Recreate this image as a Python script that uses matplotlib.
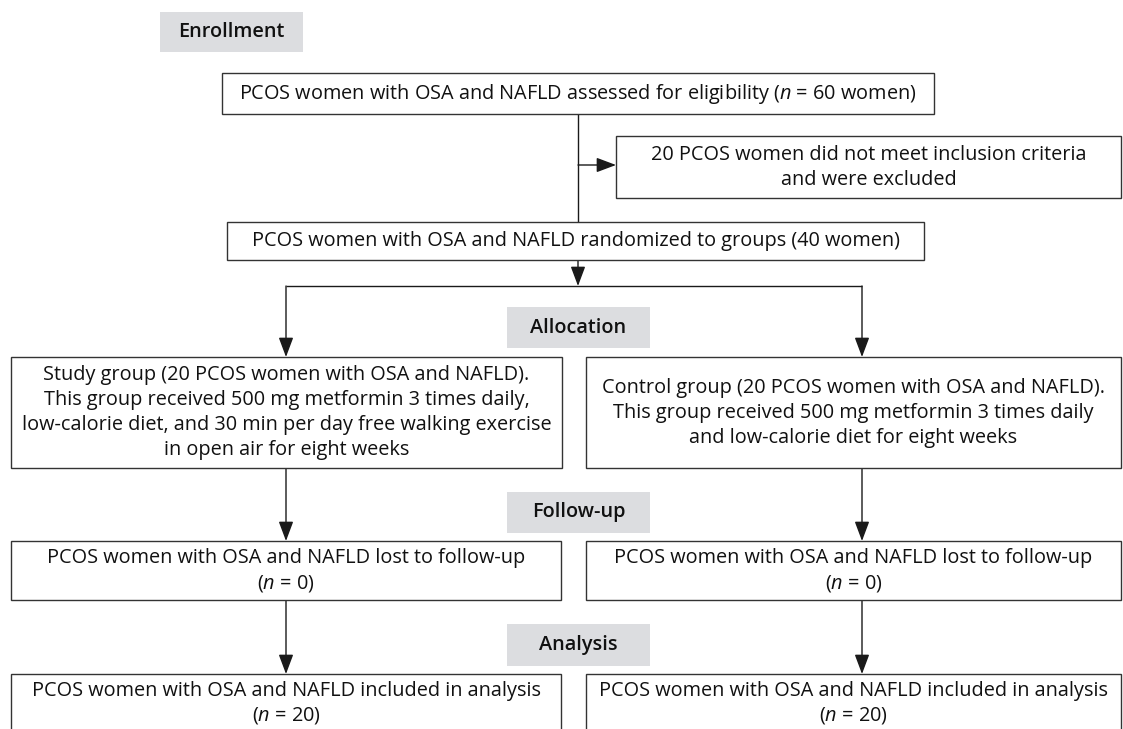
import matplotlib
matplotlib.use('Agg')
import matplotlib.pyplot as plt
from matplotlib.patches import Rectangle

plt.rcParams['font.family'] = ['Open Sans', 'DejaVu Sans']
plt.rcParams['mathtext.fontset'] = 'custom'
plt.rcParams['mathtext.rm'] = 'Open Sans'
plt.rcParams['mathtext.it'] = 'Open Sans:italic'

# ---------------- content ----------------
stage_labels = ['Enrollment', 'Allocation', 'Follow-up', 'Analysis']
n_assessed = 60
n_excluded = 20
n_randomized = 40
n_groups = [20, 20]
n_lost = [0, 0]
n_analysed = [20, 20]

assessed_text = [f'PCOS women with OSA and NAFLD assessed for eligibility ($n$ = {n_assessed} women)']
excluded_text = [f'{n_excluded} PCOS women did not meet inclusion criteria', 'and were excluded']
randomized_text = [f'PCOS women with OSA and NAFLD randomized to groups ({n_randomized} women)']
group_texts = [
    [f'Study group ({n_groups[0]} PCOS women with OSA and NAFLD).',
     'This group received 500 mg metformin 3 times daily,',
     'low-calorie diet, and 30 min per day free walking exercise',
     'in open air for eight weeks'],
    [f'Control group ({n_groups[1]} PCOS women with OSA and NAFLD).',
     'This group received 500 mg metformin 3 times daily',
     'and low-calorie diet for eight weeks'],
]
lost_texts = [['PCOS women with OSA and NAFLD lost to follow-up', f'($n$ = {n})'] for n in n_lost]
analysed_texts = [['PCOS women with OSA and NAFLD included in analysis', f'($n$ = {n})'] for n in n_analysed]

# ---------------- style / layout ----------------
W, H = 1123, 729
FS = 14.3
LH = 25
LC = '#1a1a1a'
EC = '#333333'
GRAY = '#dcdde0'
LW = 1.0

fig = plt.figure(figsize=(W / 100, H / 100), dpi=100)
ax = fig.add_axes([0, 0, 1, 1])
ax.set_xlim(0, W)
ax.set_ylim(H, 0)
ax.axis('off')


def box(x0, x1, y0, y1, lines, first=None):
    ax.add_patch(Rectangle((x0, y0), x1 - x0, y1 - y0, facecolor='white',
                           edgecolor=EC, lw=LW, zorder=2))
    cx = (x0 + x1) / 2
    n = len(lines)
    if first is None:
        first = (y0 + y1) / 2 - (n - 1) / 2 * LH
    for i, t in enumerate(lines):
        ax.text(cx, first + i * LH, t, ha='center', va='center',
                fontsize=FS, color='#111111', zorder=3)


def label(x0, x1, y0, y1, t):
    ax.add_patch(Rectangle((x0, y0), x1 - x0, y1 - y0, facecolor=GRAY,
                           edgecolor='none', zorder=1))
    ax.text((x0 + x1) / 2, (y0 + y1) / 2, t, ha='center', va='center',
            fontsize=FS, fontweight='semibold', color='#111111', zorder=3)


def line(p, q):
    ax.plot([p[0], q[0]], [p[1], q[1]], color=LC, lw=LW, solid_capstyle='butt', zorder=1)


def arrow(p, q):
    ax.annotate('', xy=q, xytext=p,
                arrowprops=dict(arrowstyle='-|>,head_length=1.2,head_width=0.45',
                                lw=LW, color=LC, shrinkA=0, shrinkB=0,
                                mutation_scale=10), zorder=1)


XL, XR = 286, 862
CX = 578

# stage labels
label(160, 303, 12, 52, stage_labels[0])
label(507, 650, 307, 348, stage_labels[1])
label(507, 650, 492, 533, stage_labels[2])
label(507, 650, 624, 666, stage_labels[3])

# enrollment
box(222, 934, 73, 114, assessed_text)
line((CX, 114), (CX, 222))
arrow((CX, 165), (616, 165))
box(616, 1121, 136, 198, excluded_text)
box(227, 924, 222, 260, randomized_text)
arrow((CX, 260), (CX, 286))
line((XL, 286), (XR, 286))
arrow((XL, 286), (XL, 357))
arrow((XR, 286), (XR, 357))

# allocation
box(11, 562, 357, 468, group_texts[0])
box(586, 1121, 357, 468, group_texts[1])
arrow((XL, 468), (XL, 541))
arrow((XR, 468), (XR, 541))

# follow-up
box(11, 561, 541, 600, lost_texts[0], first=558)
box(586, 1121, 541, 600, lost_texts[1], first=558)
arrow((XL, 600), (XL, 674))
arrow((XR, 600), (XR, 674))

# analysis
box(11, 561, 674, 760, analysed_texts[0], first=691)
box(586, 1121, 674, 760, analysed_texts[1], first=691)

fig.savefig('out.png', dpi=100)
